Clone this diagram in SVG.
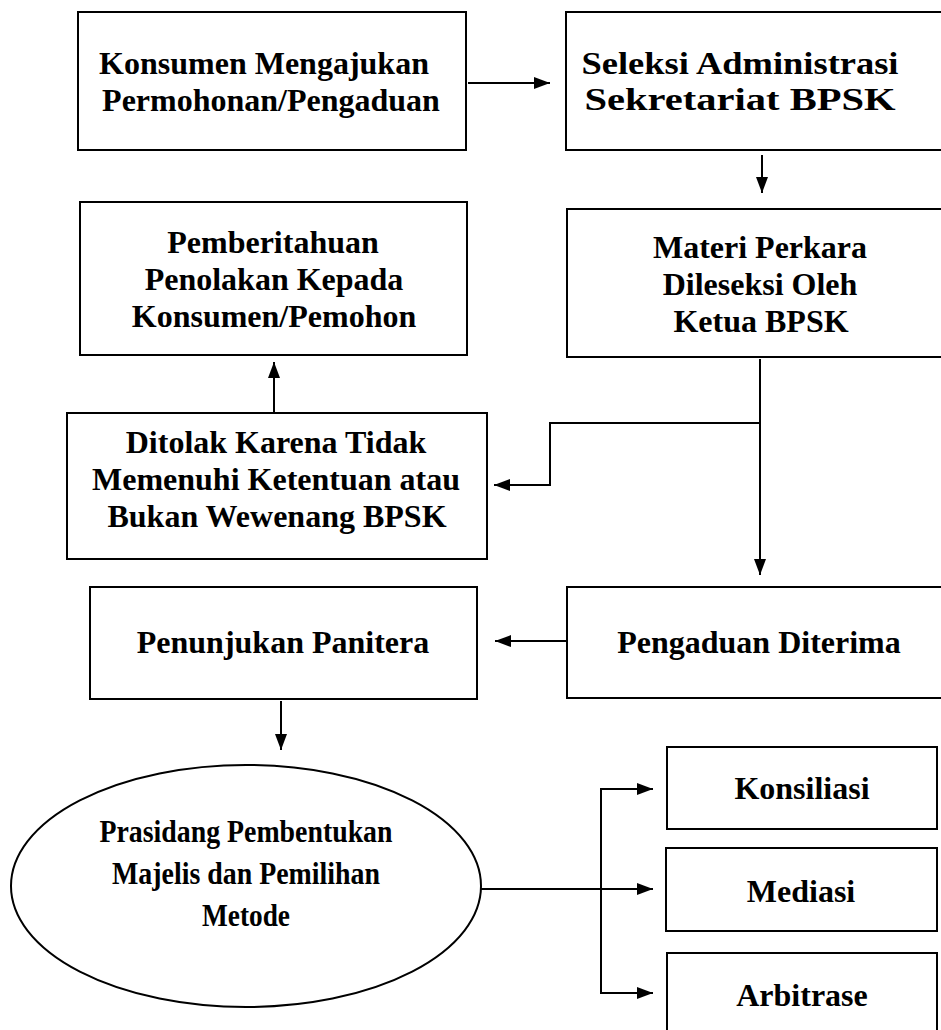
<svg xmlns="http://www.w3.org/2000/svg" width="941" height="1030" viewBox="0 0 941 1030">
<style>
.box{fill:#fff;stroke:#000;stroke-width:2}
.t{font-family:"Liberation Serif","Times New Roman",serif;font-weight:bold;font-size:32px;fill:#000;text-anchor:middle}
.c{fill:none;stroke:#000;stroke-width:2}
</style>
<defs>
<marker id="ah" markerWidth="16" markerHeight="12" refX="16" refY="6" orient="auto" markerUnits="userSpaceOnUse">
<path d="M0,0 L16,6 L0,12 Z" fill="#000"/>
</marker>
</defs>
<rect width="941" height="1030" fill="#fff"/>
<g id="n1">
<rect class="box" x="78" y="12" width="388" height="138"/>
<text class="t" x="264" y="74">Konsumen Mengajukan</text>
<text class="t" x="271" y="111">Permohonan/Pengaduan</text>
</g>
<g id="n2">
<rect class="box" x="566" y="12" width="390" height="138"/>
<text class="t" x="740" y="74" textLength="317" lengthAdjust="spacingAndGlyphs">Seleksi Administrasi</text>
<text class="t" x="740" y="110" textLength="311" lengthAdjust="spacingAndGlyphs">Sekretariat BPSK</text>
</g>
<g id="n3">
<rect class="box" x="80" y="202" width="387" height="153"/>
<text class="t" x="273" y="253">Pemberitahuan</text>
<text class="t" x="274" y="290">Penolakan Kepada</text>
<text class="t" x="274" y="327">Konsumen/Pemohon</text>
</g>
<g id="n4">
<rect class="box" x="567" y="209" width="390" height="148"/>
<text class="t" x="760" y="258">Materi Perkara</text>
<text class="t" x="760" y="295">Dileseksi Oleh</text>
<text class="t" x="761" y="332">Ketua BPSK</text>
</g>
<g id="n5">
<rect class="box" x="67" y="413" width="420" height="146"/>
<text class="t" x="276" y="453">Ditolak Karena Tidak</text>
<text class="t" x="276" y="490">Memenuhi Ketentuan atau</text>
<text class="t" x="277" y="527">Bukan Wewenang BPSK</text>
</g>
<g id="n6">
<rect class="box" x="567" y="587" width="390" height="111"/>
<text class="t" x="759" y="653">Pengaduan Diterima</text>
</g>
<g id="n7">
<rect class="box" x="90" y="587" width="387" height="112"/>
<text class="t" x="283" y="653">Penunjukan Panitera</text>
</g>
<g id="n8">
<ellipse class="box" cx="246" cy="886" rx="235" ry="121"/>
<text class="t" x="246" y="842" textLength="293" lengthAdjust="spacingAndGlyphs">Prasidang Pembentukan</text>
<text class="t" x="246" y="884" textLength="268" lengthAdjust="spacingAndGlyphs">Majelis dan Pemilihan</text>
<text class="t" x="246" y="926" textLength="88" lengthAdjust="spacingAndGlyphs">Metode</text>
</g>
<g id="n9">
<rect class="box" x="667" y="747" width="270" height="82"/>
<text class="t" x="802" y="799">Konsiliasi</text>
</g>
<g id="n10">
<rect class="box" x="666" y="848" width="271" height="83"/>
<text class="t" x="801" y="902">Mediasi</text>
</g>
<g id="n11">
<rect class="box" x="667" y="953" width="270" height="90"/>
<text class="t" x="802" y="1006">Arbitrase</text>
</g>
<g id="connectors">
<path class="c" d="M468,83 H550" marker-end="url(#ah)"/>
<path class="c" d="M762,155 V193" marker-end="url(#ah)"/>
<path class="c" d="M760,359 V575" marker-end="url(#ah)"/>
<path class="c" d="M760,423 H550 V485 H494" marker-end="url(#ah)"/>
<path class="c" d="M274,412 V362" marker-end="url(#ah)"/>
<path class="c" d="M567,641 H495" marker-end="url(#ah)"/>
<path class="c" d="M281,701 V750" marker-end="url(#ah)"/>
<path class="c" d="M481,889 H653" marker-end="url(#ah)"/>
<path class="c" d="M601,889 V789 H653" marker-end="url(#ah)"/>
<path class="c" d="M601,889 V993 H653" marker-end="url(#ah)"/>
</g>
</svg>
